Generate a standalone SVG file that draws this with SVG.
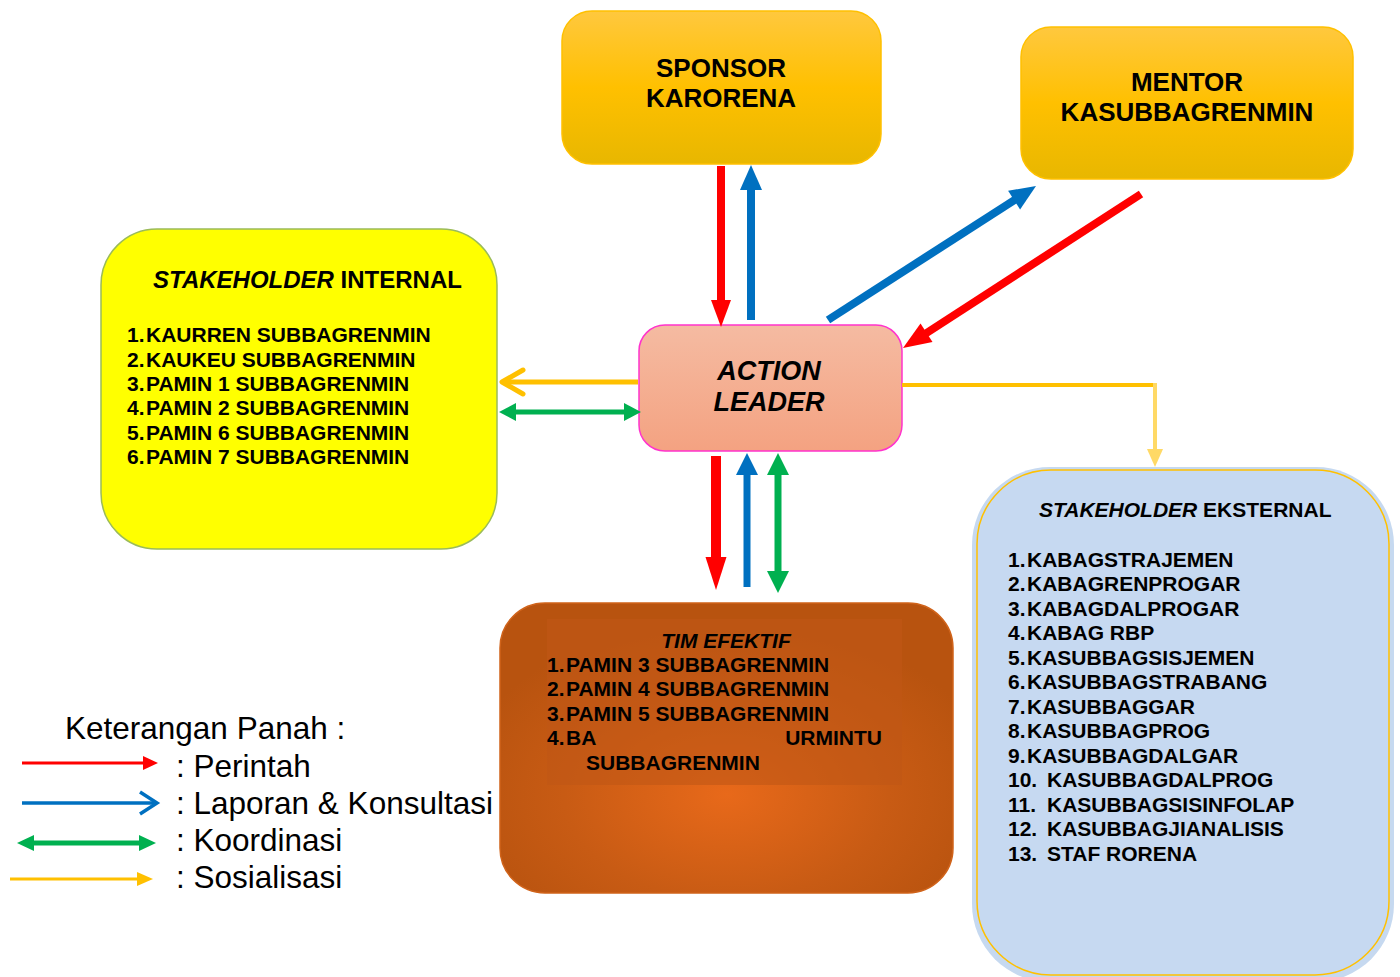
<svg xmlns="http://www.w3.org/2000/svg" width="1400" height="977" viewBox="0 0 1400 977">
<defs>
<linearGradient id="gold" x1="0" y1="0" x2="0" y2="1">
<stop offset="0" stop-color="#FFC83E"/>
<stop offset="0.5" stop-color="#FFC000"/>
<stop offset="1" stop-color="#E8B700"/>
</linearGradient>
<linearGradient id="salmon" x1="0" y1="0" x2="0" y2="1">
<stop offset="0" stop-color="#F5BBA2"/>
<stop offset="1" stop-color="#F4A281"/>
</linearGradient>
<radialGradient id="orange" cx="0.5" cy="0.66" r="0.6">
<stop offset="0" stop-color="#E8691A"/>
<stop offset="0.6" stop-color="#C85B14"/>
<stop offset="1" stop-color="#B8530F"/>
</radialGradient>
<style>
.t{font-family:"Liberation Sans",Arial,sans-serif;font-weight:bold;fill:#000}
.i{font-style:italic}
.lst{font-size:21px}
.leg{font-family:"Liberation Sans",Arial,sans-serif;font-size:31.5px;fill:#000}
</style>
</defs>
<rect width="1400" height="977" fill="#FFFFFF"/>

<g id="sponsor">
<rect x="562" y="11" width="319" height="153" rx="30" fill="url(#gold)" stroke="#FFC000" stroke-width="1.5"/>
<text class="t" font-size="26" text-anchor="middle" x="721" y="77">SPONSOR</text>
<text class="t" font-size="26" text-anchor="middle" x="721" y="107">KARORENA</text>
</g>

<g id="mentor">
<rect x="1021" y="27" width="332" height="152" rx="30" fill="url(#gold)" stroke="#FFC000" stroke-width="1.5"/>
<text class="t" font-size="26" text-anchor="middle" x="1187" y="91">MENTOR</text>
<text class="t" font-size="26" text-anchor="middle" x="1187" y="121">KASUBBAGRENMIN</text>
</g>

<g id="stakeholder-internal">
<rect x="101" y="229" width="396" height="320" rx="56" fill="#FFFF00" stroke="#9BBB59" stroke-width="1.5"/>
<text class="t" font-size="24" x="153" y="288"><tspan class="i">STAKEHOLDER</tspan> INTERNAL</text>
<g class="t lst">
<text x="127" y="342">1.</text><text x="146" y="342">KAURREN SUBBAGRENMIN</text>
<text x="127" y="367">2.</text><text x="146" y="367">KAUKEU SUBBAGRENMIN</text>
<text x="127" y="391">3.</text><text x="146" y="391">PAMIN 1 SUBBAGRENMIN</text>
<text x="127" y="415">4.</text><text x="146" y="415">PAMIN 2 SUBBAGRENMIN</text>
<text x="127" y="440">5.</text><text x="146" y="440">PAMIN 6 SUBBAGRENMIN</text>
<text x="127" y="464">6.</text><text x="146" y="464">PAMIN 7 SUBBAGRENMIN</text>
</g>
</g>

<g id="action-leader">
<rect x="639" y="325" width="263" height="126" rx="26" fill="url(#salmon)" stroke="#FF33CC" stroke-width="1.5"/>
<text class="t i" font-size="27" text-anchor="middle" x="769" y="380">ACTION</text>
<text class="t i" font-size="27" text-anchor="middle" x="769" y="411">LEADER</text>
</g>

<g id="tim-efektif">
<rect x="500" y="603" width="453" height="290" rx="45" fill="url(#orange)" stroke="#D0631A" stroke-width="1.5"/>
<rect x="547" y="619" width="355" height="166" fill="#C05716" opacity="0.6"/>
<text class="t i" font-size="21" text-anchor="middle" x="726" y="648">TIM EFEKTIF</text>
<g class="t lst">
<text x="547" y="672">1.</text><text x="566" y="672">PAMIN 3 SUBBAGRENMIN</text>
<text x="547" y="696">2.</text><text x="566" y="696">PAMIN 4 SUBBAGRENMIN</text>
<text x="547" y="721">3.</text><text x="566" y="721">PAMIN 5 SUBBAGRENMIN</text>
<text x="547" y="745">4.</text><text x="566" y="745">BA</text><text x="882" y="745" text-anchor="end">URMINTU</text>
<text x="586" y="770">SUBBAGRENMIN</text>
</g>
</g>

<g id="stakeholder-eksternal">
<rect x="972" y="467" width="422" height="515" rx="78" fill="#C6D9F0"/>
<rect x="977" y="470" width="412" height="505" rx="74" fill="#C6D9F1" stroke="#FFC000" stroke-width="1.5"/>
<text class="t" font-size="21" x="1039" y="517"><tspan class="i">STAKEHOLDER</tspan> EKSTERNAL</text>
<g class="t lst" font-size="20">
<text x="1008" y="567">1.</text><text x="1027" y="567">KABAGSTRAJEMEN</text>
<text x="1008" y="591">2.</text><text x="1027" y="591">KABAGRENPROGAR</text>
<text x="1008" y="616">3.</text><text x="1027" y="616">KABAGDALPROGAR</text>
<text x="1008" y="640">4.</text><text x="1027" y="640">KABAG RBP</text>
<text x="1008" y="665">5.</text><text x="1027" y="665">KASUBBAGSISJEMEN</text>
<text x="1008" y="689">6.</text><text x="1027" y="689">KASUBBAGSTRABANG</text>
<text x="1008" y="714">7.</text><text x="1027" y="714">KASUBBAGGAR</text>
<text x="1008" y="738">8.</text><text x="1027" y="738">KASUBBAGPROG</text>
<text x="1008" y="763">9.</text><text x="1027" y="763">KASUBBAGDALGAR</text>
<text x="1008" y="787">10.</text><text x="1047" y="787">KASUBBAGDALPROG</text>
<text x="1008" y="812">11.</text><text x="1047" y="812">KASUBBAGSISINFOLAP</text>
<text x="1008" y="836">12.</text><text x="1047" y="836">KASUBBAGJIANALISIS</text>
<text x="1008" y="861">13.</text><text x="1047" y="861">STAF RORENA</text>
</g>
</g>

<g id="connectors">
<line x1="721" y1="166" x2="721" y2="302" stroke="#FF0000" stroke-width="8"/>
<polygon points="711,300 731,300 721,327" fill="#FF0000"/>
<line x1="751" y1="320" x2="751" y2="188" stroke="#0070C0" stroke-width="8"/>
<polygon points="740,190 762,190 751,165" fill="#0070C0"/>
<line x1="828" y1="320" x2="1016" y2="199" stroke="#0070C0" stroke-width="8"/>
<polygon points="1036,186 1020.1,209.4 1008.1,190.8" fill="#0070C0"/>
<line x1="1141" y1="194" x2="925" y2="334" stroke="#FF0000" stroke-width="8"/>
<polygon points="903,348 932.5,342 920.5,323.6" fill="#FF0000"/>
<line x1="638" y1="382" x2="503" y2="382" stroke="#FFC000" stroke-width="5"/>
<polyline points="523,370 502,382 523,394" fill="none" stroke="#FFC000" stroke-width="5" stroke-linecap="round" stroke-linejoin="round"/>
<line x1="514" y1="412" x2="626" y2="412" stroke="#00B050" stroke-width="5"/>
<polygon points="499,412 516,403 516,421" fill="#00B050"/>
<polygon points="641,412 624,403 624,421" fill="#00B050"/>
<polyline points="902,385 1155,385" fill="none" stroke="#FFC000" stroke-width="4"/>
<line x1="1155" y1="383" x2="1155" y2="452" stroke="#FFD966" stroke-width="4"/>
<polygon points="1147,449 1163,449 1155,467" fill="#FFD966"/>
<line x1="716" y1="456" x2="716" y2="559" stroke="#FF0000" stroke-width="10"/>
<polygon points="705.5,557 726.5,557 716,590" fill="#FF0000"/>
<line x1="747" y1="587" x2="747" y2="473" stroke="#0070C0" stroke-width="7"/>
<polygon points="736,475 758,475 747,453" fill="#0070C0"/>
<line x1="778" y1="473" x2="778" y2="573" stroke="#00B050" stroke-width="7"/>
<polygon points="767,475 789,475 778,453" fill="#00B050"/>
<polygon points="767,571 789,571 778,593" fill="#00B050"/>
</g>

<g id="legend">
<text class="leg" x="65" y="739">Keterangan Panah :</text>
<line x1="22" y1="763" x2="145" y2="763" stroke="#FF0000" stroke-width="3"/>
<polygon points="143,756 158,763 143,770" fill="#FF0000"/>
<text class="leg" x="176" y="777">: Perintah</text>
<line x1="22" y1="803" x2="156" y2="803" stroke="#0070C0" stroke-width="3.5"/>
<polyline points="140,792 157,803 140,814" fill="none" stroke="#0070C0" stroke-width="3.5"/>
<text class="leg" x="176" y="814">: Laporan &amp; Konsultasi</text>
<line x1="32" y1="843" x2="141" y2="843" stroke="#00B050" stroke-width="5"/>
<polygon points="17,843 34,835 34,851" fill="#00B050"/>
<polygon points="156,843 139,835 139,851" fill="#00B050"/>
<text class="leg" x="176" y="851">: Koordinasi</text>
<line x1="10" y1="879" x2="139" y2="879" stroke="#FFC000" stroke-width="3"/>
<polygon points="137,872 153,879 137,886" fill="#FFC000"/>
<text class="leg" x="176" y="888">: Sosialisasi</text>
</g>
</svg>
